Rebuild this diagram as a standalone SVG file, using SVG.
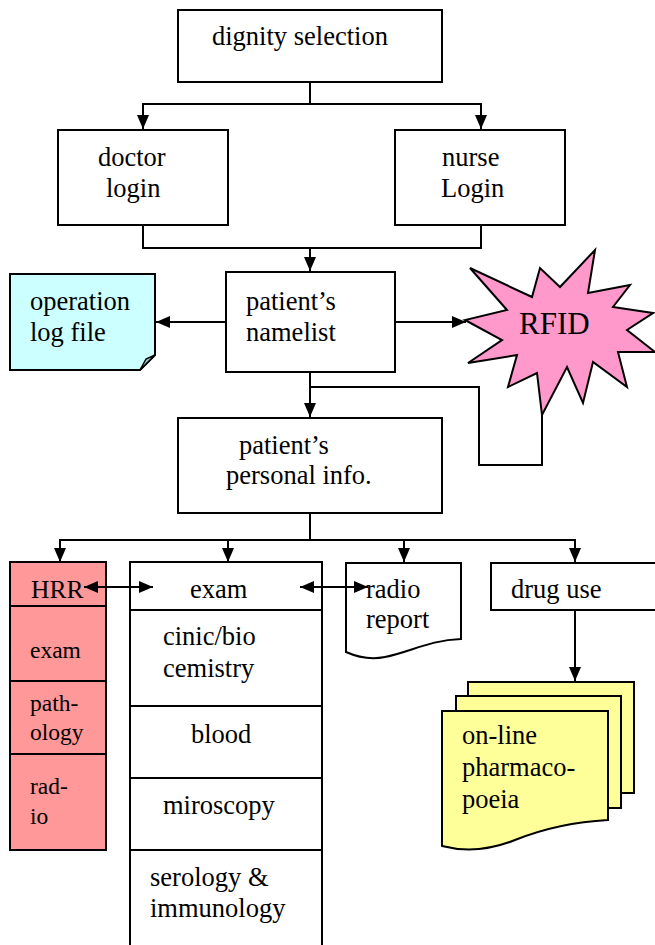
<svg xmlns="http://www.w3.org/2000/svg" width="655" height="945" viewBox="0 0 655 945">
<style>
  .box{fill:#fff;stroke:#000;stroke-width:2}
  text{font-family:'Liberation Serif','DejaVu Serif','Noto Serif',serif;fill:#000}
  .t{font-size:26.5px}
  .ts{font-size:23.5px}
  .c{fill:none;stroke:#000;stroke-width:2}
</style>
<defs>
  <marker id="ah" markerUnits="userSpaceOnUse" markerWidth="15" markerHeight="13" refX="14" refY="6" orient="auto-start-reverse">
    <path d="M0,0 L14,6 L0,12 Z" fill="#000"/>
  </marker>
</defs>
<rect width="655" height="945" fill="#fff"/>

<g id="dignity">
  <rect class="box" x="178" y="10" width="264" height="72"/>
  <text class="t" x="212" y="45">dignity selection</text>
</g>
<g id="doctor">
  <rect class="box" x="58" y="130" width="170" height="95"/>
  <text class="t" x="98" y="166">doctor</text>
  <text class="t" x="106" y="197">login</text>
</g>
<g id="nurse">
  <rect class="box" x="395" y="130" width="170" height="95"/>
  <text class="t" x="442" y="166">nurse</text>
  <text class="t" x="441" y="197">Login</text>
</g>
<g id="namelist">
  <rect class="box" x="226" y="272" width="169" height="100"/>
  <text class="t" x="246" y="310">patient’s</text>
  <text class="t" x="246" y="341">namelist</text>
</g>
<g id="oplog">
  <path d="M10,274 H155 V355 L140,370 H10 Z" fill="#CCFFFF" stroke="#000" stroke-width="2"/>
  <path d="M155,355 L140,370 L146,359 Z" fill="#99CCCC" stroke="#000" stroke-width="1.5"/>
  <text class="t" x="30" y="310">operation</text>
  <text class="t" x="30" y="341">log file</text>
</g>
<g id="rfid">
  <polygon points="470,268 532,297 540,268 560,287 595,250 588,293 630,285 613,307 653,313 627,330 655,352 618,352 627,387 593,362 583,403 567,367 542,415 537,373 508,387 517,355 468,363 502,340 465,320 507,310" fill="#FF99CC" stroke="#000" stroke-width="2" stroke-linejoin="miter"/>
  <text x="519" y="334" font-size="31">RFID</text>
</g>
<g id="personal">
  <rect class="box" x="178" y="418" width="264" height="95"/>
  <text class="t" x="239" y="454">patient’s</text>
  <text class="t" x="226" y="484">personal info.</text>
</g>
<g id="hrr">
  <rect x="10" y="562" width="96" height="288" fill="#FF9999" stroke="#000" stroke-width="2"/>
  <path d="M10,606 H107 M10,681 H106 M10,754 H106" class="c"/>
  <text class="t" x="31" y="598" font-size="25.5" style="font-size:25.5px">HRR</text>
  <text class="ts" x="30" y="658">exam</text>
  <text class="ts" x="30" y="711">path-</text>
  <text class="ts" x="30" y="740">ology</text>
  <text class="ts" x="30" y="794">rad-</text>
  <text class="ts" x="30" y="824">io</text>
</g>
<g id="exam">
  <path d="M130,950 V562 H322 V950" class="c"/>
  <path d="M130,610 H322 M130,706 H322 M130,778 H322 M130,850 H322" class="c"/>
  <text class="t" x="190" y="598">exam</text>
  <text class="t" x="163" y="645">cinic/bio</text>
  <text class="t" x="163" y="677">cemistry</text>
  <text class="t" x="191" y="743">blood</text>
  <text class="t" x="163" y="814">miroscopy</text>
  <text class="t" x="150" y="886">serology &amp;</text>
  <text class="t" x="150" y="917">immunology</text>
</g>
<g id="radio">
  <path d="M346,563 H461 V639 C430,640 410,652 385,657 C370,660 355,656 346,652 Z" fill="#fff" stroke="#000" stroke-width="2"/>
  <text class="t" x="366" y="598">radio</text>
  <text class="t" x="366" y="628">report</text>
</g>
<g id="druguse">
  <rect class="box" x="491" y="563" width="170" height="47"/>
  <text class="t" x="511" y="598">drug use</text>
</g>
<g id="pharmacopoeia">
  <path d="M468,682 H634 V793 H620 V696 H468 Z" fill="#FFFF99" stroke="#000" stroke-width="2"/>
  <path d="M456,696 H621 V808 H608 V711 H456 Z" fill="#FFFF99" stroke="#000" stroke-width="2"/>
  <path d="M442,711 H608 V820 C570,822 540,830 515,840 C490,850 465,852 442,846 Z" fill="#FFFF99" stroke="#000" stroke-width="2"/>
  <text class="t" x="462" y="744">on-line</text>
  <text class="t" x="462" y="776">pharmaco-</text>
  <text class="t" x="462" y="808">poeia</text>
</g>

<g id="connectors">
  <path class="c" d="M310,82 V104 M143,104 H481"/>
  <path class="c" d="M143,103 V129" marker-end="url(#ah)"/>
  <path class="c" d="M481,103 V129" marker-end="url(#ah)"/>
  <path class="c" d="M143,225 V248 H481 V225"/>
  <path class="c" d="M310,248 V271" marker-end="url(#ah)"/>
  <path class="c" d="M226,322 H156" marker-end="url(#ah)"/>
  <path class="c" d="M395,322 H466" marker-end="url(#ah)"/>
  <path class="c" d="M310,372 V417" marker-end="url(#ah)"/>
  <path class="c" d="M310,387 H479 V465 H542 V415"/>
  <path class="c" d="M310,513 V540 M60,540 H575"/>
  <path class="c" d="M60,539 V562" marker-end="url(#ah)"/>
  <path class="c" d="M228,539 V562" marker-end="url(#ah)"/>
  <path class="c" d="M404,539 V562" marker-end="url(#ah)"/>
  <path class="c" d="M575,539 V562" marker-end="url(#ah)"/>
  <path class="c" d="M84,587 H153" marker-start="url(#ah)" marker-end="url(#ah)"/>
  <path class="c" d="M300,587 H368" marker-start="url(#ah)" marker-end="url(#ah)"/>
  <path class="c" d="M575,610 V681" marker-end="url(#ah)"/>
</g>
</svg>
